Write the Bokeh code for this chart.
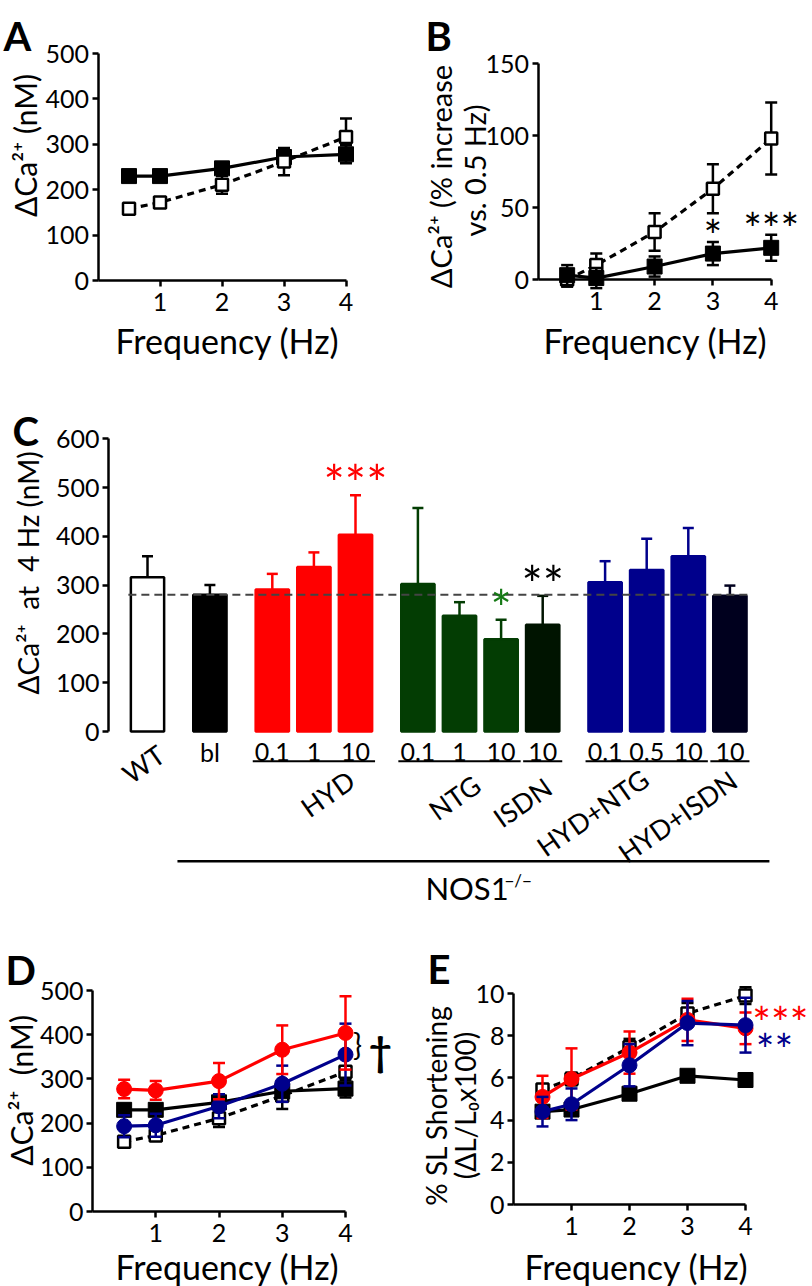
import math
from bokeh.plotting import figure
from bokeh.layouts import column, row
from bokeh.models import Range1d, FixedTicker, Label, ColumnDataSource
from bokeh.core.properties import value
from bokeh.embed import file_html
from bokeh.resources import INLINE

FONT = "Lato"
NB = "\u00a0"  # non-breaking space (keeps the double spaces of the original labels)

# ---------------- data ----------------
freq = [0.5, 1, 2, 3, 4]
freq_ticks = [1, 2, 3, 4]

# Panel A: dCa2+ (nM); WT = open/dashed, NOS1-/- baseline = filled/solid
a_wt = [158, 172, 211, 262, 316]
a_wt_err = [7, 9, 20, 30, 41]
a_ko = [230, 230, 247, 272, 278]
a_ko_err = [9, 9, 11, 13, 20]

# Panel B: % increase vs 0.5 Hz
b_wt = [0, 10, 33, 63, 98]
b_wt_err = [5, 8, 13, 17, 25]
b_ko = [3, 1, 9, 18, 22]
b_ko_err = [7, 7, 7, 8, 9]
b_sig = ["", "", "", "*", "***"]

# Panel C: dCa2+ at 4 Hz (nM)
c_group = ["WT", "bl", "HYD", "HYD", "HYD", "NTG", "NTG", "NTG", "ISDN",
           "HYD+NTG", "HYD+NTG", "HYD+NTG", "HYD+ISDN"]
c_dose = ["", "", "0.1", "1", "10", "0.1", "1", "10", "10", "0.1", "0.5", "10", "10"]
c_cluster = [0, 1, 2, 2, 2, 3, 3, 3, 3, 4, 4, 4, 4]
c_mean = [316, 280, 291, 337, 403, 302, 237, 189, 219, 306, 331, 359, 278]
c_err = [43, 20, 32, 30, 81, 156, 28, 40, 59, 43, 64, 58, 21]
c_sig = ["", "", "", "", "***", "", "", "*", "**", "", "", "", ""]
c_rot_labels = ["WT", "HYD", "NTG", "ISDN", "HYD+NTG", "HYD+ISDN"]
c_genotype = "NOS1"
c_genotype_sup = "\u2212/\u2212"

# Panel D: dCa2+ (nM) with HYD (red) and HYD+NTG (blue)
d_hyd = [277, 274, 295, 366, 404]
d_hyd_err = [21, 21, 41, 55, 83]
d_hn = [193, 195, 238, 289, 355]
d_hn_err = [25, 26, 27, 41, 70]

# Panel E: % SL shortening
e_wt = [5.45, 5.95, 7.45, 9.05, 9.9]
e_wt_err = [0.2, 0.3, 0.4, 0.5, 0.4]
e_ko = [4.4, 4.5, 5.25, 6.1, 5.9]
e_ko_err = [0.15, 0.15, 0.15, 0.25, 0.22]
e_hyd = [5.1, 5.95, 7.2, 8.75, 8.35]
e_hyd_err = [1.0, 1.45, 1.0, 1.0, 0.75]
e_hn = [4.4, 4.75, 6.6, 8.6, 8.5]
e_hn_err = [0.7, 0.75, 1.0, 1.05, 1.3]

# ---------------- style ----------------
RED = "#ff0000"
GREEN = "#033d03"
ISDN_C = "#001400"
NAVY = "#00008c"
HI_C = "#00001e"
SIG_GREEN = "#167a16"
GROUP_FILL = {"WT": "white", "bl": "black", "HYD": RED, "NTG": GREEN, "ISDN": ISDN_C,
              "HYD+NTG": NAVY, "HYD+ISDN": HI_C}
GROUP_LINE = {"WT": "black", "bl": "black", "HYD": RED, "NTG": GREEN, "ISDN": ISDN_C,
              "HYD+NTG": NAVY, "HYD+ISDN": HI_C}
SIG_COLOR = {"HYD": RED, "NTG": SIG_GREEN, "ISDN": "black"}


def panel(ox, oy, w, h, x0, sx, y0, sy):
    """Figure whose frame fills the whole figure; (x0, y0) = pixel position of the
    data origin, sx / sy = pixels per data unit."""
    xr = ((ox - x0) / sx, (ox + w - x0) / sx)
    yr = ((y0 - (oy + h)) / sy, (y0 - oy) / sy)
    p = figure(width=w, height=h, x_range=Range1d(*xr), y_range=Range1d(*yr),
               title=None, output_backend="svg", toolbar_location=None,
               min_border_left=0, min_border_right=0, min_border_top=0, min_border_bottom=0)
    p.outline_line_color = None
    p.grid.visible = False
    p.background_fill_color = "white"
    p.border_fill_color = "white"
    for ax in p.axis:
        ax.fixed_location = 0
        ax.axis_line_width = 2.5
        ax.axis_line_color = "black"
        ax.major_tick_line_width = 2.5
        ax.major_tick_line_color = "black"
        ax.major_tick_out = 6
        ax.major_tick_in = 0
        ax.minor_tick_line_color = None
        ax.major_label_text_font = FONT
        ax.major_label_text_font_size = "25px"
        ax.major_label_text_color = "black"
    p.xaxis.major_label_standoff = 6
    p.yaxis.major_label_standoff = 3
    return p


def set_ticks(p, xticks, xb, yticks, yb):
    if xticks is not None:
        p.xaxis.ticker = FixedTicker(ticks=xticks)
        p.xaxis.bounds = xb
    p.yaxis.ticker = FixedTicker(ticks=yticks)
    p.yaxis.bounds = yb


def label(p, x, y, text, size, angle=0.0, bold=False, color="black",
          align="center", baseline="middle"):
    p.add_layout(Label(x=x, y=y, x_units="data", y_units="data", text=text, angle=angle,
                       text_font=FONT, text_font_size=f"{size}px",
                       text_font_style="bold" if bold else "normal",
                       text_color=color, text_align=align, text_baseline=baseline))


def sig(p, x, yc, text, color, size, yscale):
    # shift so that the asterisk glyph centre is near yc
    label(p, x, yc - 0.2 * size / yscale, text, size, color=color, baseline="alphabetic")


def errbars(p, x, y, e, color, cap=12, lw=2.5, both=True):
    hi = [a + b for a, b in zip(y, e)]
    lo = [a - b for a, b in zip(y, e)] if both else list(y)
    p.segment(x0=x, y0=lo, x1=x, y1=hi, line_color=color, line_width=lw)
    p.scatter(x=x, y=hi, marker="dash", size=cap, line_color=color, line_width=lw)
    if both:
        p.scatter(x=x, y=lo, marker="dash", size=cap, line_color=color, line_width=lw)


def series(p, x, y, e, color, marker, fill, dash="solid", size=14):
    errbars(p, x, y, e, color)
    p.line(x, y, line_color=color, line_width=3.2, line_dash=dash)
    p.scatter(x=x, y=y, marker=marker, size=size, fill_color=fill, line_color=color,
              line_width=2.5 if fill == "white" else 1)


# ---------------- Panel A ----------------
pa = panel(0, 0, 400, 380, 97.5, 62, 280, 0.454)
set_ticks(pa, freq_ticks, (0, 4), [0, 100, 200, 300, 400, 500], (0, 500))
series(pa, freq, a_ko, a_ko_err, "black", "square", "black", size=15)
series(pa, freq, a_wt, a_wt_err, "black", "square", "white", dash="7 5", size=12)
label(pa, -1.524, 539.6, "A", 40, bold=True, align="left", baseline="alphabetic")
label(pa, -1.185, 297.4, "\u0394Ca\u00b2\u207a (nM)", 30, angle=math.pi / 2)
label(pa, 2.089, -132, "Frequency (Hz)", 34)

# ---------------- Panel B ----------------
pb = panel(400, 0, 412, 380, 537.5, 58.3, 279, 1.44)
set_ticks(pb, freq_ticks, (0, 4), [0, 50, 100, 150], (0, 150))
series(pb, freq, b_wt, b_wt_err, "black", "square", "white", dash="7 5", size=12)
series(pb, freq, b_ko, b_ko_err, "black", "square", "black", size=15)
for xi, yi, ei, s in zip(freq, b_ko, b_ko_err, b_sig):
    if s:
        sig(pb, xi, yi + ei + 11, s, "black", 44, 1.44)
label(pb, -1.93, 169.4, "B", 40, bold=True, align="left", baseline="alphabetic")
label(pb, -1.672, 71.5, "\u0394Ca\u00b2\u207a (% increase", 29, angle=math.pi / 2)
label(pb, -1.09, 75.7, "vs. 0.5 Hz)", 29, angle=math.pi / 2)
label(pb, 2.015, -42.4, "Frequency (Hz)", 34)

# ---------------- Panel C ----------------
pc = panel(0, 380, 812, 545, 147, 41.6, 731, 0.488)
pc.xaxis.visible = False
set_ticks(pc, None, None, [0, 100, 200, 300, 400, 500, 600], (0, 600))
c_x = [i + 0.5 * c for i, c in enumerate(c_cluster)]
pc.yaxis.fixed_location = c_x[0] - 0.9375
src = ColumnDataSource(dict(x=c_x, top=c_mean,
                            fill=[GROUP_FILL[g] for g in c_group],
                            line=[GROUP_LINE[g] for g in c_group]))
pc.vbar(x="x", top="top", bottom=0, width=0.8, fill_color="fill", line_color="line",
        line_width=2.5, source=src)
for xi, m, e, g in zip(c_x, c_mean, c_err, c_group):
    errbars(pc, [xi], [m], [e], GROUP_LINE[g], cap=11, both=False)
ref_level = c_mean[c_group.index("bl")]
pc.line(x=[c_x[0] - 0.46, c_x[-1] + 0.45], y=[ref_level, ref_level],
        line_color="#444444", line_width=2, line_dash="8 5")
for xi, m, e, g, s in zip(c_x, c_mean, c_err, c_group, c_sig):
    if s:
        sig(pc, xi, m + e + 45, s, SIG_COLOR[g], 50, 0.488)
# dose labels
dose_x = [xi for xi, d in zip(c_x, c_dose) if d]
dose_t = [d for d in c_dose if d]
pc.text(x=dose_x, y=[-43] * len(dose_x), text=dose_t, text_font=value(FONT),
        text_font_size="25px", text_align="center", text_baseline="middle", text_color="black")
pc.text(x=[c_x[c_group.index("bl")]], y=[-43], text=["bl"], text_font=value(FONT),
        text_font_size="25px", text_align="center", text_baseline="middle", text_color="black")
# underlines per treatment group
for g in ["HYD", "NTG", "ISDN", "HYD+NTG", "HYD+ISDN"]:
    xs = [xi for xi, gg in zip(c_x, c_group) if gg == g]
    pc.segment(x0=[min(xs) - 0.47], y0=[-61], x1=[max(xs) + 0.47], y1=[-61],
               line_color="black", line_width=2)
# rotated group labels
rot_pos = {"WT": (-0.1, -66), "HYD": (4.33, -127), "NTG": (7.38, -135),
           "ISDN": (9.01, -145), "HYD+NTG": (10.70, -166), "HYD+ISDN": (12.74, -174)}
pc.text(x=[rot_pos[g][0] for g in c_rot_labels], y=[rot_pos[g][1] for g in c_rot_labels],
        text=c_rot_labels, angle=0.61, text_font=value(FONT), text_font_size="27px",
        text_align="center", text_baseline="middle", text_color="black")
# genotype bracket line and label
pc.segment(x0=[c_x[1] - 0.78], y0=[-266], x1=[c_x[-1] + 0.95], y1=[-266],
           line_color="black", line_width=2.5)
pc.text(x=[6.68], y=[-320], text=[c_genotype], text_font=value(FONT), text_font_size="31px",
        text_align="left", text_baseline="middle", text_color="black")
pc.text(x=[8.58], y=[-305], text=[c_genotype_sup], text_font=value(FONT), text_font_size="17px",
        text_align="left", text_baseline="middle", text_color="black")
label(pc, -3.245, 616.8, "C", 40, bold=True, align="left", baseline="alphabetic")
label(pc, -2.87, 325, f"\u0394Ca\u00b2\u207a{NB}{NB}at{NB}{NB}4 Hz (nM)", 28,
      angle=math.pi / 2)

# ---------------- Panel D ----------------
pd_ = panel(0, 925, 400, 361, 92, 63.25, 1211, 0.442)
set_ticks(pd_, freq_ticks, (0, 4), [0, 100, 200, 300, 400, 500], (0, 500))
series(pd_, freq, a_wt, a_wt_err, "black", "square", "white", dash="7 5", size=12)
series(pd_, freq, a_ko, a_ko_err, "black", "square", "black", size=15)
series(pd_, freq, d_hn, d_hn_err, NAVY, "circle", NAVY, size=15)
series(pd_, freq, d_hyd, d_hyd_err, RED, "circle", RED, size=15)
label(pd_, 4.19, 380, "}", 30)
label(pd_, 4.55, 364, "\u2020", 40, bold=True)
label(pd_, -1.375, 547.5, "D", 40, bold=True, align="left", baseline="alphabetic")
label(pd_, -1.138, 273.8, f"\u0394Ca\u00b2\u207a{NB}{NB}(nM)", 30, angle=math.pi / 2)
label(pd_, 2.134, -124.4, "Frequency (Hz)", 34)

# ---------------- Panel E ----------------
pe = panel(400, 925, 412, 361, 513, 58, 1204, 21.1)
set_ticks(pe, freq_ticks, (0, 4), [0, 2, 4, 6, 8, 10], (0, 10))
series(pe, freq, e_wt, e_wt_err, "black", "square", "white", dash="7 5", size=12)
series(pe, freq, e_ko, e_ko_err, "black", "square", "black", size=15)
series(pe, freq, e_hyd, e_hyd_err, RED, "circle", RED, size=15)
series(pe, freq, e_hn, e_hn_err, NAVY, "circle", NAVY, size=15)
sig(pe, 4.6, 9.05, "***", RED, 44, 21.1)
sig(pe, 4.5, 7.77, "**", NAVY, 44, 21.1)
label(pe, -1.483, 11.18, "E", 40, bold=True, align="left", baseline="alphabetic")
label(pe, -1.328, 4.69, "% SL Shortening", 28, angle=math.pi / 2)
label(pe, -0.828, 4.69, "(\u0394L/L\u2080x100)", 28, angle=math.pi / 2)
label(pe, 2.12, -2.94, "Frequency (Hz)", 34)

layout = column(row(pa, pb), pc, row(pd_, pe))
open("out.html", "w").write(file_html(layout, INLINE))
